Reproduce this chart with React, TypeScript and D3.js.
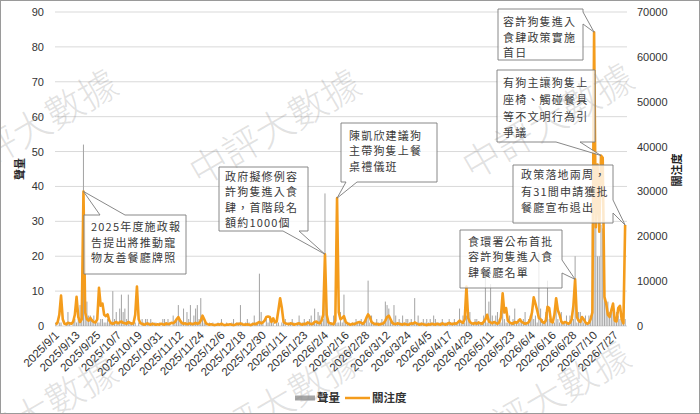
import * as d3 from "d3";
import { useEffect, useRef } from "react";

// x-axis tick labels, one every 12 categories
const tickLabels = [
  "2025/9/1", "2025/9/13", "2025/9/25", "2025/10/7", "2025/10/19", "2025/10/31",
  "2025/11/12", "2025/11/24", "2025/12/6", "2025/12/18", "2025/12/30", "2026/1/11",
  "2026/1/23", "2026/2/4", "2026/2/16", "2026/2/28", "2026/3/12", "2026/3/24",
  "2026/4/5", "2026/4/17", "2026/4/29", "2026/5/11", "2026/5/23", "2026/6/4",
  "2026/6/16", "2026/6/28", "2026/7/10", "2026/7/27",
];

// 聲量 (left axis, bars)
const volume = [
  1, 0, 1, 1, 0, 0, 1, 4, 1, 0,
  1, 2, 1, 2, 6, 3, 52, 5, 7, 3,
  3, 2, 3, 1, 1, 1, 2, 2, 1, 1,
  2, 1, 1, 10, 2, 4, 1, 5, 9, 4,
  5, 2, 9, 1, 1, 2, 1, 0, 1, 0,
  2, 1, 2, 2, 1, 2, 1, 1, 1, 0,
  1, 0, 2, 2, 1, 2, 1, 0, 3, 1,
  2, 6, 2, 1, 5, 1, 4, 2, 6, 1,
  3, 5, 6, 2, 8, 2, 1, 1, 0, 1,
  0, 1, 0, 0, 1, 0, 2, 0, 0, 1,
  0, 0, 1, 2, 0, 1, 1, 6, 1, 0,
  1, 2, 1, 0, 1, 3, 1, 1, 15, 4,
  1, 0, 2, 1, 2, 1, 1, 0, 1, 1,
  0, 1, 1, 2, 0, 1, 1, 2, 1, 0,
  1, 3, 1, 1, 2, 1, 1, 2, 3, 1,
  5, 1, 4, 3, 1, 2, 38, 5, 2, 1,
  1, 3, 2, 1, 1, 4, 1, 9, 2, 1,
  1, 0, 1, 1, 2, 1, 1, 2, 1, 1,
  2, 13, 1, 3, 1, 1, 2, 1, 1, 2,
  1, 7, 6, 5, 2, 1, 6, 3, 1, 2,
  1, 3, 1, 2, 2, 1, 2, 1, 8, 1,
  3, 1, 1, 2, 1, 2, 1, 2, 1, 3,
  2, 1, 1, 1, 2, 1, 1, 1, 2, 1,
  1, 2, 1, 1, 5, 1, 3, 1, 3, 2,
  4, 1, 1, 2, 2, 1, 1, 1, 3, 14,
  1, 7, 12, 3, 1, 3, 4, 2, 1, 5,
  2, 1, 1, 3, 1, 2, 5, 1, 2, 1,
  1, 2, 4, 1, 2, 3, 4, 2, 3, 1,
  21, 5, 2, 1, 4, 13, 2, 1, 2, 1,
  5, 2, 1, 4, 1, 1, 3, 1, 3, 2,
  2, 20, 1, 4, 4, 2, 1, 3, 1, 3,
  3, 29, 30, 29, 20, 20, 29, 28, 8, 7,
  7, 4, 5, 4, 2, 4, 3, 2, 2, 3, 2,
];

// 關注度 (right axis, line)
const attention = [
  300, 800, 2500, 6800, 1500, 500, 400, 700, 600, 500,
  900, 2500, 6500, 2000, 900, 1500, 30000, 3000, 1500, 1200,
  1800, 1200, 900, 800, 1500, 8500, 4500, 5000, 2500, 2200,
  2600, 1200, 600, 500, 700, 900, 600, 800, 1000, 700,
  600, 500, 900, 700, 500, 600, 2500, 8800, 1500, 600,
  500, 300, 400, 600, 400, 300, 500, 400, 300, 400,
  300, 500, 400, 300, 600, 400, 500, 700, 600, 900,
  1500, 2000, 1200, 700, 500, 600, 400, 500, 600, 400,
  500, 700, 500, 600, 1200, 2300, 1500, 600, 400, 300,
  400, 300, 200, 300, 400, 300, 500, 300, 200, 300,
  300, 400, 300, 200, 300, 500, 400, 600, 400, 300,
  300, 400, 300, 200, 400, 500, 400, 700, 900, 600,
  800, 1200, 2000, 2100, 2000, 900, 1700, 800, 1000, 3500,
  6200, 4000, 900, 600, 500, 400, 600, 500, 300, 400,
  500, 600, 400, 300, 500, 400, 800, 600, 400, 500,
  900, 1000, 700, 600, 1200, 2500, 16000, 2500, 800, 600,
  500, 400, 1200, 28500, 3000, 1500, 1800, 2200, 900, 600,
  400, 300, 500, 400, 600, 800, 900, 700, 500, 900,
  1800, 2600, 2000, 900, 600, 400, 500, 300, 400, 500,
  600, 1200, 2000, 2300, 1500, 700, 500, 400, 600, 500,
  400, 300, 500, 400, 300, 400, 600, 500, 800, 600,
  400, 300, 500, 400, 300, 200, 400, 300, 500, 400,
  300, 500, 400, 300, 600, 400, 300, 500, 700, 500,
  400, 600, 500, 800, 1200, 900, 700, 1500, 8800, 1800,
  900, 600, 500, 700, 500, 800, 600, 500, 900, 1500,
  2500, 1000, 800, 600, 900, 700, 500, 800, 2000, 7300,
  3000, 4000, 1200, 800, 600, 500, 900, 700, 1000, 1500,
  900, 700, 500, 600, 800, 1500, 3000, 6400, 5000, 3500,
  1800, 1500, 900, 700, 1200, 4300, 4000, 1000, 800, 2500,
  6200, 3500, 2500, 1000, 600, 900, 800, 500, 700, 1500,
  4500, 10400, 2000, 1200, 900, 2000, 1500, 800, 500, 700,
  1500, 3000, 65500, 22000, 36000, 21000, 38000, 37500, 6500, 5000,
  2500, 2000, 3500, 5000, 1200, 1000, 4000, 4500, 1500, 600, 22500,
];

const leftTicks = [0, 10, 20, 30, 40, 50, 60, 70, 80, 90];
const rightTicks = [0, 10000, 20000, 30000, 40000, 50000, 60000, 70000];

// annotated days (category index) and their text
const noteIdx = [16, 156, 163, 301, 330, 316, 312];
const noteText = [
  ["2025年度施政報", "告提出將推動寵", "物友善餐廳牌照"],
  ["政府擬修例容", "許狗隻進入食", "肆，首階段名", "額約1000個"],
  ["陳凱欣建議狗", "主帶狗隻上餐", "桌禮儀班"],
  ["食環署公布首批", "容許狗隻進入食", "肆餐廳名單"],
  ["政策落地兩周，", "有31間申請獲批", "餐廳宣布退出"],
  ["有狗主讓狗隻上", "座椅、觸碰餐具", "等不文明行為引", "爭議"],
  ["容許狗隻進入", "食肆政策實施", "首日"],
];
// callout box layout (pixels)
const noteBox = [
  { x: 84, y: 215, w: 102, h: 59, side: "top", a: 100, b: 125, tx: 91, ty: 231, lh: 15.5 },
  { x: 219, y: 167, w: 89, h: 64, side: "bottom", a: 283, b: 299, tx: 225, ty: 181, lh: 15.4 },
  { x: 341, y: 123, w: 96, h: 59, side: "bottom", a: 346, b: 357, tx: 349, ty: 139.5, lh: 15.8 },
  { x: 460, y: 230, w: 102, h: 58, side: "right", a: 260, b: 273, tx: 468, ty: 246, lh: 15.4 },
  { x: 513, y: 165, w: 100, h: 58, side: "right", a: 200, b: 213, tx: 521, ty: 179, lh: 16.7 },
  { x: 497, y: 70, w: 98, h: 72, side: "bottom", a: 556, b: 580, tx: 503, ty: 87, lh: 16.8 },
  { x: 498, y: 9, w: 85, h: 51, side: "right", a: 12, b: 24, tx: 503, ty: 26, lh: 15.5 },
];

const W = 700;
const H = 414;
const GRAY = "#a6a6a6";
const ORANGE = "#f49c1c";
const LATIN = "'Liberation Sans', Arial, sans-serif";
const CJK = "'Noto Sans CJK TC', 'Noto Sans', sans-serif";

const App = () => {
  const svgRef = useRef<SVGSVGElement>(null);

  useEffect(() => {
    const svg = d3.select(svgRef.current);
    svg.selectAll("*").remove();

    const left = 55, right = 626, top = 12, bottom = 326;

    const x = d3
      .scaleBand<number>()
      .domain(d3.range(volume.length))
      .range([left, right])
      .paddingInner(0.4)
      .paddingOuter(0.2);
    const xc = (i: number) => (x(i) || 0) + x.bandwidth() / 2;
    const yL = d3.scaleLinear().domain([0, 90]).range([bottom, top]);
    const yR = d3.scaleLinear().domain([0, 70000]).range([bottom, top]);

    svg
      .append("rect")
      .attr("width", W)
      .attr("height", H)
      .attr("fill", "#fff");

    // gridlines
    svg
      .append("g")
      .selectAll("line")
      .data(leftTicks)
      .enter()
      .append("line")
      .attr("x1", left)
      .attr("x2", right + 1)
      .attr("y1", (d) => yL(d))
      .attr("y2", (d) => yL(d))
      .attr("stroke", "#d9d9d9")
      .attr("stroke-width", 1);

    // left axis labels
    svg
      .append("g")
      .selectAll("text")
      .data(leftTicks)
      .enter()
      .append("text")
      .attr("x", 44)
      .attr("y", (d) => yL(d))
      .attr("dy", "0.36em")
      .attr("text-anchor", "end")
      .style("font-family", LATIN)
      .style("font-size", "11px")
      .style("fill", "#333")
      .text((d) => d);

    // right axis labels
    svg
      .append("g")
      .selectAll("text")
      .data(rightTicks)
      .enter()
      .append("text")
      .attr("x", 637)
      .attr("y", (d) => yR(d))
      .attr("dy", "0.36em")
      .style("font-family", LATIN)
      .style("font-size", "11px")
      .style("fill", "#333")
      .text((d) => d);

    // axis titles
    svg
      .append("text")
      .attr("transform", "translate(24,169) rotate(-90)")
      .attr("text-anchor", "middle")
      .style("font-family", CJK)
      .style("font-size", "11px")
      .style("font-weight", "bold")
      .style("fill", "#222")
      .text("聲量");
    svg
      .append("text")
      .attr("transform", "translate(681,170) rotate(-90)")
      .attr("text-anchor", "middle")
      .style("font-family", CJK)
      .style("font-size", "11px")
      .style("font-weight", "bold")
      .style("fill", "#222")
      .text("關注度");

    // x tick labels
    svg
      .append("g")
      .selectAll("text")
      .data(tickLabels)
      .enter()
      .append("text")
      .attr("transform", (d, i) => `translate(${xc(i * 12) + 4},${bottom + 10}) rotate(-45)`)
      .attr("text-anchor", "end")
      .style("font-family", LATIN)
      .style("font-size", "11.5px")
      .style("fill", "#333")
      .text((d) => d);

    // 聲量 bars
    svg
      .append("g")
      .selectAll("rect")
      .data(volume)
      .enter()
      .append("rect")
      .attr("x", (d, i) => x(i) || 0)
      .attr("y", (d) => yL(d))
      .attr("width", x.bandwidth())
      .attr("height", (d) => bottom - yL(d))
      .attr("fill", GRAY);

    // 關注度 line
    const line = d3
      .line<number>()
      .x((d, i) => xc(i))
      .y((d) => yR(d));
    svg
      .append("path")
      .datum(attention)
      .attr("d", line)
      .attr("fill", "none")
      .attr("stroke", ORANGE)
      .attr("stroke-width", 2.6)
      .attr("stroke-linejoin", "round");

    // callouts
    noteIdx.forEach((idx, k) => {
      const b = noteBox[k];
      const tx = xc(idx);
      const ty = yR(attention[idx]);
      let p = "";
      if (b.side === "top") {
        p = `M${b.x},${b.y}L${b.a},${b.y}L${tx},${ty}L${b.b},${b.y}L${b.x + b.w},${b.y}L${b.x + b.w},${b.y + b.h}L${b.x},${b.y + b.h}Z`;
      } else if (b.side === "bottom") {
        p = `M${b.x},${b.y}L${b.x + b.w},${b.y}L${b.x + b.w},${b.y + b.h}L${b.b},${b.y + b.h}L${tx},${ty}L${b.a},${b.y + b.h}L${b.x},${b.y + b.h}Z`;
      } else {
        p = `M${b.x},${b.y}L${b.x + b.w},${b.y}L${b.x + b.w},${b.a}L${tx},${ty}L${b.x + b.w},${b.b}L${b.x + b.w},${b.y + b.h}L${b.x},${b.y + b.h}Z`;
      }
      svg
        .append("path")
        .attr("d", p)
        .attr("fill", "#fff")
        .attr("fill-opacity", 0.78)
        .attr("stroke", "#7a7a7a")
        .attr("stroke-width", 0.9);
      svg
        .append("g")
        .selectAll("text")
        .data(noteText[k])
        .enter()
        .append("text")
        .attr("x", b.tx)
        .attr("y", (d, j) => b.ty + j * b.lh)
        .attr("letter-spacing", 1.2)
        .style("font-family", CJK)
        .style("font-size", "11px")
        .style("fill", "#3a3a3a")
        .text((d) => d);
    });

    // legend
    const lg = svg.append("g");
    lg.append("rect")
      .attr("x", 295)
      .attr("y", 395.5)
      .attr("width", 20)
      .attr("height", 5)
      .attr("fill", GRAY);
    lg.append("text")
      .attr("x", 317)
      .attr("y", 402)
      .style("font-family", CJK)
      .style("font-size", "11.5px")
      .style("font-weight", "bold")
      .style("fill", "#333")
      .text("聲量");
    lg.append("line")
      .attr("x1", 345)
      .attr("x2", 370)
      .attr("y1", 398)
      .attr("y2", 398)
      .attr("stroke", ORANGE)
      .attr("stroke-width", 2.5);
    lg.append("text")
      .attr("x", 372)
      .attr("y", 402)
      .style("font-family", CJK)
      .style("font-size", "11.5px")
      .style("font-weight", "bold")
      .style("fill", "#333")
      .text("關注度");

    // watermark (tiled, partly running off the edges as in the source)
    const marks = [
      [32, 128], [275, 128], [548, 122],
      [32, 415], [275, 405], [545, 400],
    ];
    svg
      .append("g")
      .selectAll("text")
      .data(marks)
      .enter()
      .append("text")
      .attr("transform", (d) => `translate(${d[0]},${d[1]}) rotate(-30)`)
      .attr("text-anchor", "middle")
      .attr("dy", "0.35em")
      .style("font-family", CJK)
      .style("font-size", "38px")
      .style("font-weight", "300")
      .style("fill", "#8c8c8c")
      .style("fill-opacity", 0.26)
      .text("中評大數據");

    // frame
    svg
      .append("rect")
      .attr("x", 0.5)
      .attr("y", 0.5)
      .attr("width", W - 1)
      .attr("height", H - 1)
      .attr("fill", "none")
      .attr("stroke", "#9a9a9a");
  }, []);

  return (
    <svg
      ref={svgRef}
      width={W}
      height={H}
      style={{ position: "absolute", left: 0, top: 0, display: "block" }}
    ></svg>
  );
};

export default App;
